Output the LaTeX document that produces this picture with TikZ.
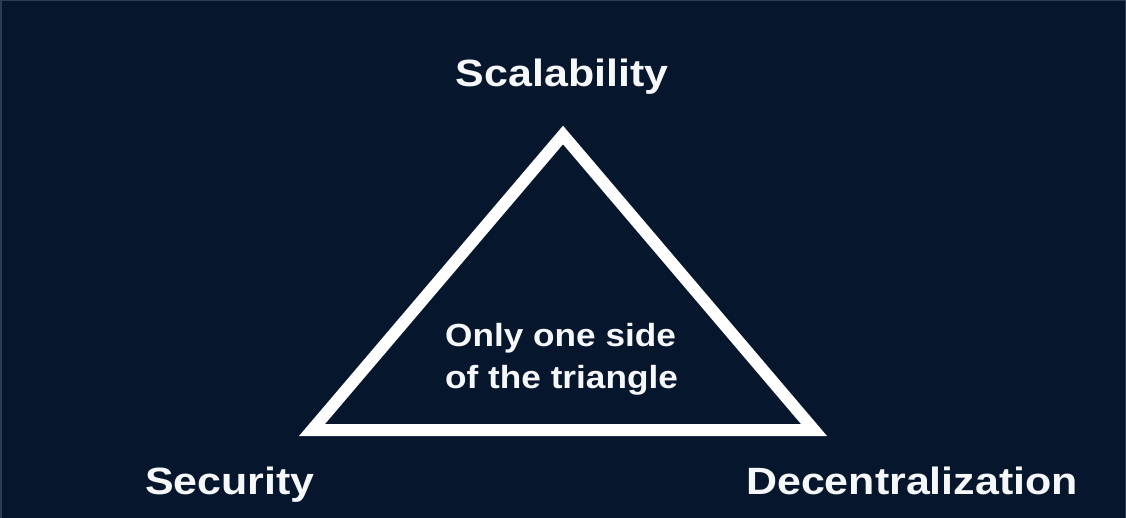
\documentclass[tikz,border=0pt]{standalone}
\usepackage{fontspec}
\setmainfont{Liberation Sans}[FakeStretch=1.13]
\newfontfamily\midfont{Liberation Sans}[FakeStretch=1.10]
\definecolor{bgnavy}{RGB}{6,23,45}
\definecolor{edgegray}{RGB}{44,60,84}
\definecolor{txtwhite}{RGB}{246,247,249}
\tikzset{
  labeltext/.style={text=txtwhite, inner sep=0pt, anchor=base, font=\fontsize{38}{45}\selectfont\bfseries},
  midtext/.style={text=txtwhite, inner sep=0pt, anchor=base west, font=\fontsize{32}{40}\selectfont\midfont\bfseries},
  trianglepath/.style={draw=white, line width=12pt, line join=miter},
}
\begin{document}
\begin{tikzpicture}[x=1pt,y=-1pt]
\useasboundingbox (0,0) rectangle (1126,518);
\fill[bgnavy] (0,0) rectangle (1126,518);
\draw[edgegray, line width=1.5pt] (0.75,518) -- (0.75,0.75) -- (1125.25,0.75) -- (1125.25,518);
\coordinate (top) at (563,135);
\coordinate (bl) at (312,430);
\coordinate (br) at (814,430);
\draw[trianglepath] (top) -- (bl) -- (br) -- cycle;
\node[labeltext] (scal) at (562,87) {Scalability};
\node[labeltext] (sec) at (230,494) {Security};
\node[labeltext] (dec) at (912,494) {Decentralization};
\node[midtext] (mid1) at (445,346) {Only one side};
\node[midtext] (mid2) at (445,388) {of the triangle};
\end{tikzpicture}
\end{document}
